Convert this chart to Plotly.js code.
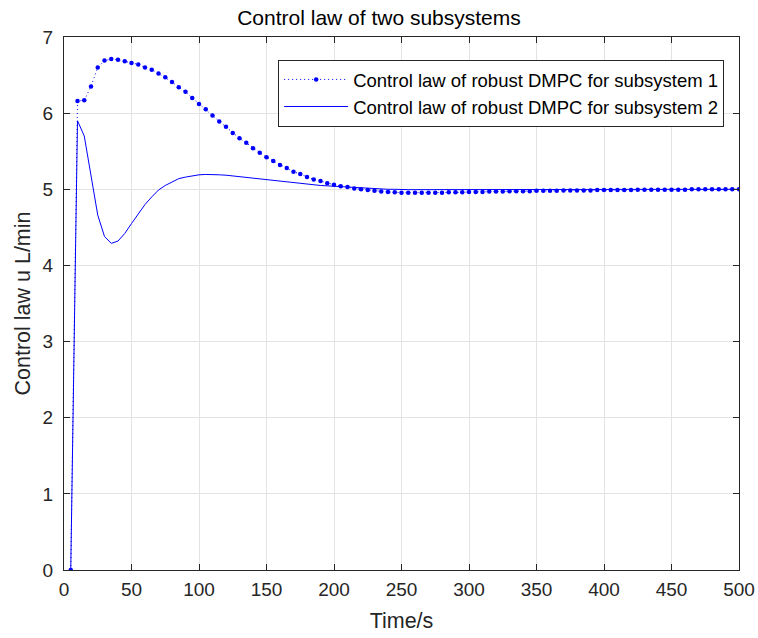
<!DOCTYPE html>
<html>
<head>
<meta charset="utf-8">
<script src="https://cdn.plot.ly/plotly-3.0.1.min.js"></script>
<style>html,body{margin:0;padding:0;background:#fff;}#chart{width:758px;height:638px;}</style>
</head>
<body>
<div id="chart"></div>
<script>
// Time samples (s)
const time = [5,10,15,20,25,30,35,40,45,50,55,60,65,70,75,80,85,90,95,100,
  105,110,115,120,125,130,135,140,145,150,155,160,165,170,175,180,185,190,195,200,
  205,210,215,220,225,230,235,240,245,250,255,260,265,270,275,280,285,290,295,300,
  305,310,315,320,325,330,335,340,345,350,355,360,365,370,375,380,385,390,395,400,
  405,410,415,420,425,430,435,440,445,450,455,460,465,470,475,480,485,490,495,500];

// Subsystem 1 control law (dotted with markers)
const u1 = [0,6.16,6.17,6.35,6.60,6.69,6.71,6.70,6.68,6.66,6.64,6.60,6.57,6.52,6.47,6.41,6.34,6.28,6.20,6.12,
  6.05,5.97,5.89,5.82,5.74,5.67,5.61,5.54,5.48,5.42,5.37,5.32,5.28,5.23,5.20,5.16,5.13,5.11,5.08,5.06,
  5.04,5.03,5.01,5.00,4.99,4.98,4.97,4.965,4.96,4.955,4.955,4.955,4.955,4.955,4.955,4.955,4.96,4.96,4.96,4.965,
  4.965,4.965,4.97,4.97,4.97,4.975,4.975,4.975,4.975,4.98,4.98,4.98,4.98,4.985,4.985,4.985,4.985,4.985,4.99,4.99,
  4.99,4.99,4.99,4.99,4.995,4.995,4.995,4.995,4.995,4.995,4.995,4.995,5.00,5.00,5.00,5.00,5.00,5.00,5.00,5.00];

// Subsystem 2 control law (solid)
const u2 = [0,5.90,5.70,5.15,4.66,4.38,4.29,4.32,4.42,4.55,4.68,4.80,4.90,4.99,5.05,5.10,5.14,5.16,5.18,5.19,
  5.195,5.195,5.19,5.185,5.175,5.165,5.155,5.145,5.135,5.125,5.115,5.105,5.095,5.085,5.075,5.065,5.06,5.05,5.045,5.04,
  5.03,5.025,5.02,5.015,5.01,5.005,5.00,5.00,5.00,4.995,4.995,4.995,4.995,4.995,4.995,4.995,4.995,4.995,4.995,4.995,
  5.00,5.00,5.00,5.00,5.00,5.00,5.00,5.00,5.00,5.00,5.00,5.00,5.00,5.00,5.00,5.00,5.00,5.00,5.00,5.00,
  5.00,5.00,5.00,5.00,5.00,5.00,5.00,5.00,5.00,5.00,5.00,5.00,5.00,5.00,5.00,5.00,5.00,5.00,5.00,5.00];

const seriesNames = ['Control law of robust DMPC for subsystem 1','Control law of robust DMPC for subsystem 2'];
const xTicks = [0,50,100,150,200,250,300,350,400,450,500];
const yTicks = [0,1,2,3,4,5,6,7];

const font = 'Liberation Sans, Arial, Helvetica, sans-serif';

const traces = [
  {x: time, y: u1, name: seriesNames[0], type: 'scatter', mode: 'lines+markers',
   line: {color: '#0000ff', width: 1, dash: '1px,3px'},
   marker: {color: '#0000ff', size: 4.5}},
  {x: time, y: u2, name: seriesNames[1], type: 'scatter', mode: 'lines',
   line: {color: '#0000ff', width: 1}}
];

const axisCommon = {
  showline: true, linecolor: '#262626', linewidth: 1, mirror: 'ticks',
  ticks: 'inside', ticklen: 6, tickcolor: '#262626', tickwidth: 1,
  showgrid: true, gridcolor: '#e3e3e3', gridwidth: 1, zeroline: false,
  tickfont: {family: font, size: 19, color: '#262626'}
};

const layout = {
  width: 758, height: 638,
  margin: {l: 64, r: 19, t: 37, b: 68},
  paper_bgcolor: '#ffffff', plot_bgcolor: '#ffffff',
  title: {text: 'Control law of two subsystems', font: {family: font, size: 21, color: '#000'},
          x: 0.5, xanchor: 'center', xref: 'container', y: 0.972, yanchor: 'middle', yref: 'container'},
  xaxis: Object.assign({}, axisCommon, {range: [0, 500], tickvals: xTicks, ticktext: xTicks.map(String),
    ticklabelstandoff: 2,
    title: {text: 'Time/s', font: {family: font, size: 21.5, color: '#262626'}, standoff: 14}}),
  yaxis: Object.assign({}, axisCommon, {range: [0, 7], tickvals: yTicks, ticktext: yTicks.map(String),
    ticklabelstandoff: 6,
    title: {text: 'Control law u L/min', font: {family: font, size: 21.5, color: '#262626'}, standoff: 6}}),
  showlegend: true,
  legend: {x: 0.978, y: 0.957, xanchor: 'right', yanchor: 'top',
    bgcolor: '#ffffff', bordercolor: '#262626', borderwidth: 1,
    font: {family: font, size: 18.5, color: '#000'}, itemwidth: 64, tracegroupgap: 0}
};

Plotly.newPlot('chart', traces, layout, {displayModeBar: false, staticPlot: true});
</script>
</body>
</html>
